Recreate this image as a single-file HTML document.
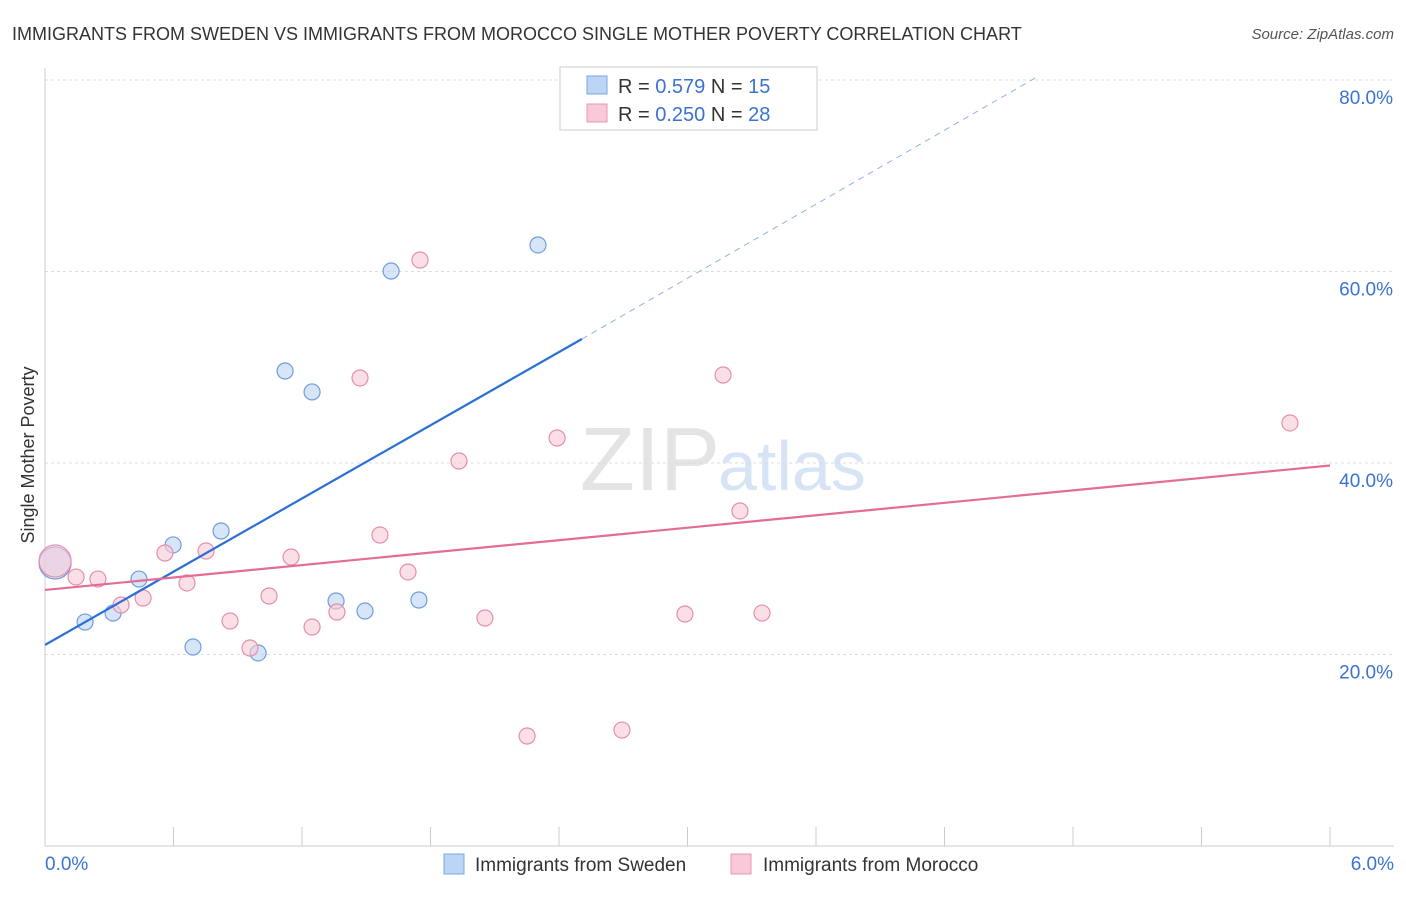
<!DOCTYPE html>
<html><head><meta charset="utf-8"><style>
body{margin:0;background:#fff;font-family:"Liberation Sans",sans-serif}
svg text{font-family:"Liberation Sans",sans-serif}
</style></head><body>
<svg id="c" width="1406" height="892">
<text x="12" y="40" font-size="18" fill="#333">IMMIGRANTS FROM SWEDEN VS IMMIGRANTS FROM MOROCCO SINGLE MOTHER POVERTY CORRELATION CHART</text>
<text x="1394" y="39" font-size="15" fill="#555" font-style="italic" text-anchor="end">Source: ZipAtlas.com</text>
<text x="720" y="490" font-size="90" fill="#e4e4e4" text-anchor="end" font-family="Liberation Serif">ZIP</text>
<text x="718" y="490" font-size="70" fill="#d6e4f5">atlas</text>
<text transform="translate(34,455) rotate(-90)" font-size="18" fill="#333" text-anchor="middle">Single Mother Poverty</text>
<g id="grid"></g><g id="axes"></g><g id="marks"></g>
<g>
<rect x="560" y="67" width="257" height="63" fill="#fff" stroke="#ccc"/>
<rect x="587" y="76" width="20" height="18" fill="#bcd4f5" stroke="#7aa6e0"/>
<rect x="587" y="104" width="20" height="18" fill="#f9c9d7" stroke="#e899b1"/>
<text x="618" y="93" font-size="20" fill="#333">R = <tspan fill="#3a73d0">0.579</tspan>   N = <tspan fill="#3a73d0">15</tspan></text>
<text x="618" y="121" font-size="20" fill="#333">R = <tspan fill="#3a73d0">0.250</tspan>   N = <tspan fill="#3a73d0">28</tspan></text>
</g>
<g>
<rect x="444" y="854" width="20" height="20" fill="#bcd4f5" stroke="#7aa6e0"/>
<text x="475" y="871" font-size="19" fill="#333">Immigrants from Sweden</text>
<rect x="731" y="854" width="20" height="20" fill="#f9c9d7" stroke="#e899b1"/>
<text x="763" y="871" font-size="19" fill="#333">Immigrants from Morocco</text>
</g>
</svg>
<script>
const swedenX=[0.047,0.187,0.318,0.439,0.598,0.691,0.822,0.995,1.121,1.247,1.359,1.494,1.616,1.746,2.302];
const swedenY=[29.56,23.39,24.33,27.88,31.44,20.78,32.9,20.16,49.61,47.42,25.59,24.54,60.05,25.69,62.77];
const moroccoX=[0.047,0.145,0.247,0.355,0.458,0.560,0.663,0.752,0.864,0.957,1.046,1.149,1.247,1.363,1.471,1.564,1.695,1.751,1.933,2.054,2.251,2.391,2.694,2.988,3.166,3.245,3.348,5.813];
const moroccoY=[29.77,28.09,27.88,25.17,25.9,30.6,27.47,30.81,23.5,20.68,26.11,30.18,22.87,24.44,48.88,32.48,28.62,61.2,40.21,23.81,11.49,42.61,12.11,24.23,49.19,34.99,24.33,44.18];
const swedenTrend=[0,21.0,2.507,52.95,4.623,80.2];
const moroccoTrend=[0,26.74,6,39.74];
const yTicks=[20,40,60,80];
const yTickLabels=["20.0%","40.0%","60.0%","80.0%"];
const xTicks=[0,0.6,1.2,1.8,2.4,3.0,3.6,4.2,4.8,5.4,6.0];
const sx=v=>45+v/6*1285, sy=v=>846-v/20*191.5;
const NS="http://www.w3.org/2000/svg";
function mk(p,t,a){const e=document.createElementNS(NS,t);for(const k in a)e.setAttribute(k,a[k]);p.appendChild(e);return e;}
const grid=document.getElementById('grid'),axes=document.getElementById('axes'),marks=document.getElementById('marks');
yTicks.forEach((v,i)=>{
 const l=mk(grid,'line',{x1:45,x2:1394,y1:sy(v),y2:sy(v),stroke:'#ddd','stroke-dasharray':'3,3'});
 
 
 const t=mk(axes,'text',{x:1393,y:sy(v)+24,'font-size':19,fill:'#3a73d0','text-anchor':'end'});t.textContent=yTickLabels[i];
 
 
});
mk(axes,'line',{x1:45,x2:45,y1:68,y2:846,stroke:'#ccc'});
mk(axes,'line',{x1:45,x2:1394,y1:846,y2:846,stroke:'#ccc'});
xTicks.forEach(v=>{const l=mk(axes,'line',{x1:sx(v),x2:sx(v),y1:827,y2:846,stroke:'#ccc'});
 
 });
let t=mk(axes,'text',{x:45,y:870,'font-size':19,fill:'#3a73d0'});t.textContent='0.0%';


t=mk(axes,'text',{x:1394,y:870,'font-size':19,fill:'#3a73d0','text-anchor':'end'});t.textContent='6.0%';


function dots(X,Y,fill,stroke,name){X.forEach((x,i)=>{const c=mk(marks,'circle',{cx:sx(x),cy:sy(Y[i]),r:i==0?16:8,fill:fill,'fill-opacity':0.6,stroke:stroke,'stroke-width':1.2});
 
 });}
dots(swedenX,swedenY,'#bcd4f5','#6f9ddc','sweden-point');
dots(moroccoX,moroccoY,'#f9c9d7','#e58fab','morocco-point');
let l=mk(marks,'line',{x1:sx(swedenTrend[0]),y1:sy(swedenTrend[1]),x2:sx(swedenTrend[2]),y2:sy(swedenTrend[3]),stroke:'#2a6fd6','stroke-width':2.2});


l=mk(marks,'line',{x1:sx(swedenTrend[2]),y1:sy(swedenTrend[3]),x2:sx(swedenTrend[4]),y2:sy(swedenTrend[5]),stroke:'#8fb3e6','stroke-width':1,'stroke-dasharray':'6,5'});


l=mk(marks,'line',{x1:sx(moroccoTrend[0]),y1:sy(moroccoTrend[1]),x2:sx(moroccoTrend[2]),y2:sy(moroccoTrend[3]),stroke:'#e36d96','stroke-width':2.2});


</script>
</body></html>
